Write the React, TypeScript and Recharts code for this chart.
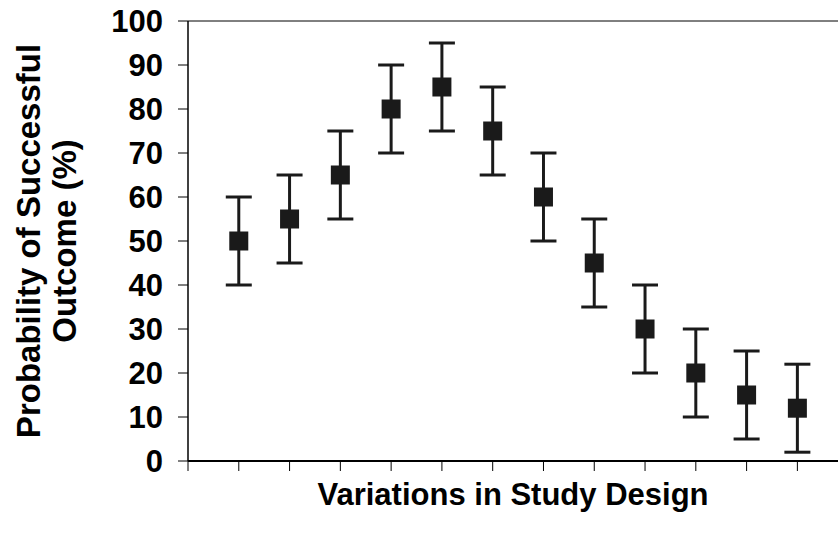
import {
  ErrorBar,
  Label,
  ReferenceLine,
  Scatter,
  ScatterChart,
  XAxis,
  YAxis,
} from "recharts";

// study design variation index (1..12), no tick labels shown
const designs = [1, 2, 3, 4, 5, 6, 7, 8, 9, 10, 11, 12];
const probability = [50, 55, 65, 80, 85, 75, 60, 45, 30, 20, 15, 12];
const errorRange = [10, 10, 10, 10, 10, 10, 10, 10, 10, 10, 10, 10];
const xTicks = [0, 1, 2, 3, 4, 5, 6, 7, 8, 9, 10, 11, 12];
const yTicks = [0, 10, 20, 30, 40, 50, 60, 70, 80, 90, 100];

const data = designs.map((d, i) => ({
  design: d,
  value: probability[i],
  err: errorRange[i],
}));

const FONT = "'Liberation Sans', Arial, sans-serif";
const INK = "#1a1a1a";

const Square = (props: any) => {
  const { cx, cy } = props;
  const s = 19;
  return <rect x={cx - s / 2} y={cy - s / 2} width={s} height={s} fill={INK} />;
};

const YTitle = (props: any) => {
  const { x, y, height } = props.viewBox;
  const px = x + 40;
  const cy = y + height / 2;
  return (
    <text
      transform={`rotate(-90 ${px} ${cy})`}
      x={px}
      y={cy}
      textAnchor="middle"
      fontFamily={FONT}
      fontWeight="bold"
      fontSize={33}
      fill="#000"
    >
      <tspan x={px} dy={0}>Probability of Successful</tspan>
      <tspan x={px} dy={36}>Outcome (%)</tspan>
    </text>
  );
};

const XTitle = (props: any) => {
  const { x, y, width } = props.viewBox;
  return (
    <text
      x={x + width / 2}
      y={y + 44}
      textAnchor="middle"
      fontFamily={FONT}
      fontWeight="bold"
      fontSize={31}
      fill="#000"
    >
      Variations in Study Design
    </text>
  );
};

export default function App() {
  return (
    <div style={{ position: "absolute", left: 0, top: 0, background: "#fff" }}>
      <ScatterChart
        width={838}
        height={537}
        margin={{ top: 21, right: 0, bottom: 0, left: 0 }}
      >
        <XAxis
          type="number"
          dataKey="design"
          domain={[0, 12.8]}
          ticks={xTicks}
          tickFormatter={() => ""}
          tickSize={10}
          height={76}
          axisLine={{ stroke: "#000", strokeWidth: 2 }}
          tickLine={{ stroke: "#000", strokeWidth: 1 }}
          allowDataOverflow
        >
          <Label content={XTitle} />
        </XAxis>
        <YAxis
          type="number"
          dataKey="value"
          domain={[0, 100]}
          ticks={yTicks}
          width={188}
          tickSize={10}
          tickMargin={15}
          axisLine={{ stroke: "#000", strokeWidth: 1.5 }}
          tickLine={{ stroke: "#000", strokeWidth: 1 }}
          tick={{ fill: "#000", fontFamily: FONT, fontWeight: "bold", fontSize: 31 }}
          interval={0}
        >
          <Label content={YTitle} />
        </YAxis>
        <ReferenceLine y={100} stroke="#000" strokeWidth={1} />
        <Scatter data={data} shape={Square} isAnimationActive={false}>
          <ErrorBar
            dataKey="err"
            direction="y"
            width={13}
            strokeWidth={3}
            stroke={INK}
            isAnimationActive={false}
          />
        </Scatter>
      </ScatterChart>
    </div>
  );
}
